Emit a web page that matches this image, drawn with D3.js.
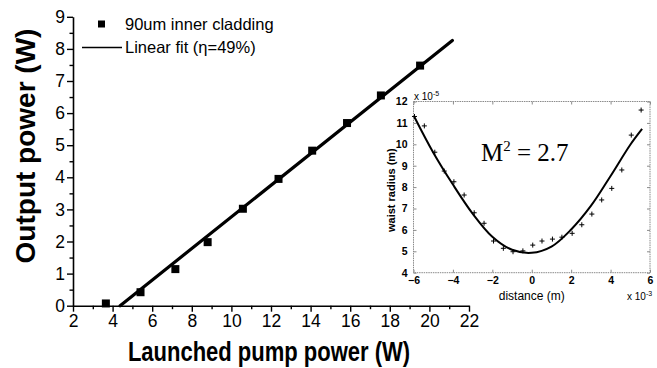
<!DOCTYPE html>
<html>
<head>
<meta charset="utf-8">
<script src="https://cdn.jsdelivr.net/npm/d3@7"></script>
<style>
  body { margin: 0; background: #fff; }
  svg { display: block; }
  text { font-family: "Liberation Sans", Arial, sans-serif; fill: #000; }
</style>
</head>
<body>
<div id="chart"></div>
<script>
const width = 657;
const height = 368;

// main plot: launched pump power vs output power
const pumpPower = [3.66, 5.41, 7.17, 8.80, 10.58, 12.38, 14.08, 15.84, 17.55, 19.53];
const outputPower = [0.07, 0.42, 1.14, 1.98, 3.02, 3.95, 4.83, 5.69, 6.55, 7.48];
const fitPump = [4.38, 21.16];
const fitOutput = [0, 8.26];
const xTicks = [2, 4, 6, 8, 10, 12, 14, 16, 18, 20, 22];
const yTicks = [0, 1, 2, 3, 4, 5, 6, 7, 8, 9];
const legendLabels = ['90um inner cladding', 'Linear fit (\u03b7=49%)'];

// inset: beam waist radius vs distance (x 10^-3 m, x 10^-5 m)
const distance = [-5.95, -5.45, -4.92, -4.44, -3.95, -3.43, -2.92, -2.42, -1.94, -1.44, -0.95, -0.45,
  0.05, 0.52, 1.05, 1.53, 2.05, 2.54, 3.05, 3.55, 4.06, 4.57, 5.05, 5.55];
const waist = [11.30, 10.86, 9.63, 8.75, 8.25, 7.63, 6.80, 6.31, 5.48, 5.14, 4.98, 5.02,
  5.29, 5.48, 5.57, 5.66, 5.84, 6.24, 6.74, 7.40, 7.94, 8.80, 10.43, 11.60];
const curveDistance = [-5.96, -5, -4, -3, -2, -1, 0, 1, 2, 3, 4, 5, 5.6];
const curveWaist = [11.29, 9.62, 8.12, 6.76, 5.68, 5.07, 4.93, 5.22, 6.02, 7.12, 8.52, 9.98, 10.72];
const insetXTicks = [-6, -4, -2, 0, 2, 4, 6];
const insetYTicks = [4, 5, 6, 7, 8, 9, 10, 11, 12];

const svg = d3.select('#chart')
  .append('svg')
  .attr('width', width)
  .attr('height', height);

svg.append('rect')
  .attr('width', width)
  .attr('height', height)
  .attr('fill', '#fff');

// ---------- main plot ----------
const xScale = d3.scaleLinear().domain([2, 22]).range([73, 469]);
const yScale = d3.scaleLinear().domain([0, 9]).range([305.7, 16.8]);

const xMinor = d3.range(3, 22, 2);
const yMinor = d3.range(0.5, 9, 1);

svg.append('g')
  .attr('transform', `translate(0, ${yScale(0)})`)
  .call(d3.axisBottom(xScale).tickValues(xMinor).tickSize(3.5).tickSizeOuter(0).tickFormat(''))
  .call(g => g.select('.domain').remove())
  .selectAll('line').attr('stroke-width', 1.4);

const xAxis = svg.append('g')
  .attr('transform', `translate(0, ${yScale(0)})`)
  .call(d3.axisBottom(xScale).tickValues(xTicks).tickSize(6).tickSizeOuter(0).tickPadding(3));

svg.append('g')
  .attr('transform', `translate(${xScale(2)}, 0)`)
  .call(d3.axisLeft(yScale).tickValues(yMinor).tickSize(3.5).tickSizeOuter(0).tickFormat(''))
  .call(g => g.select('.domain').remove())
  .selectAll('line').attr('stroke-width', 1.4);

const yAxis = svg.append('g')
  .attr('transform', `translate(${xScale(2)}, 0)`)
  .call(d3.axisLeft(yScale).tickValues(yTicks).tickSize(6).tickSizeOuter(0).tickPadding(2));

[xAxis, yAxis].forEach(ax => {
  ax.select('.domain').attr('stroke-width', 1.6).attr('stroke', '#000');
  ax.selectAll('line').attr('stroke-width', 1.4).attr('stroke', '#000');
  ax.selectAll('text')
    .style('font-size', '17.5px')
    .style('font-family', '"Liberation Sans", Arial, sans-serif')
    .attr('fill', '#000');
});

// fit line
svg.append('line')
  .attr('x1', xScale(fitPump[0]))
  .attr('y1', yScale(fitOutput[0]))
  .attr('x2', xScale(fitPump[1]))
  .attr('y2', yScale(fitOutput[1]))
  .attr('stroke', '#000')
  .attr('stroke-width', 3.2)
  .attr('stroke-linecap', 'round');

// data squares
const sq = 8;
svg.selectAll('rect.pt')
  .data(pumpPower)
  .join('rect')
  .attr('class', 'pt')
  .attr('x', (d) => xScale(d) - sq / 2)
  .attr('y', (d, i) => yScale(outputPower[i]) - sq / 2)
  .attr('width', sq)
  .attr('height', sq)
  .attr('fill', '#000');

// legend
svg.append('rect')
  .attr('x', 98)
  .attr('y', 20.5)
  .attr('width', 7)
  .attr('height', 7)
  .attr('fill', '#000');
svg.append('text')
  .attr('x', 125)
  .attr('y', 30)
  .style('font-size', '16.5px')
  .text(legendLabels[0]);
svg.append('line')
  .attr('x1', 82).attr('x2', 122)
  .attr('y1', 47.5).attr('y2', 47.5)
  .attr('stroke', '#000')
  .attr('stroke-width', 1.6);
svg.append('text')
  .attr('x', 125)
  .attr('y', 52.5)
  .style('font-size', '16.5px')
  .text(legendLabels[1]);

// axis titles (condensed bold face in the original)
svg.append('text')
  .attr('transform', 'translate(269, 361) scale(0.8, 1)')
  .attr('text-anchor', 'middle')
  .style('font-size', '27.5px')
  .style('font-weight', 'bold')
  .text('Launched pump power (W)');

svg.append('text')
  .attr('transform', 'translate(35, 146) rotate(-90)')
  .attr('text-anchor', 'middle')
  .style('font-size', '28px')
  .style('font-weight', 'bold')
  .text('Output power (W)');

// ---------- inset ----------
const ix = d3.scaleLinear().domain([-6, 6]).range([413.5, 650]);
const iy = d3.scaleLinear().domain([4, 12]).range([272.7, 101.5]);
const boxColor = '#8a8a8a';

const inset = svg.append('g').attr('class', 'inset');

inset.append('rect')
  .attr('x', ix(-6))
  .attr('y', iy(12))
  .attr('width', ix(6) - ix(-6))
  .attr('height', iy(4) - iy(12))
  .attr('fill', '#fff')
  .attr('stroke', boxColor)
  .attr('stroke-width', 1)
  .attr('stroke-dasharray', '1.5 0.8');

const iBottom = inset.append('g')
  .attr('transform', `translate(0, ${iy(4)})`)
  .call(d3.axisBottom(ix).tickValues(insetXTicks).tickSizeInner(-3).tickSizeOuter(0).tickPadding(4));
const iTop = inset.append('g')
  .attr('transform', `translate(0, ${iy(12)})`)
  .call(d3.axisTop(ix).tickValues(insetXTicks).tickSizeInner(-3).tickSizeOuter(0).tickFormat(''));
const iLeft = inset.append('g')
  .attr('transform', `translate(${ix(-6)}, 0)`)
  .call(d3.axisLeft(iy).tickValues(insetYTicks).tickSizeInner(-3).tickSizeOuter(0).tickPadding(6));
const iRight = inset.append('g')
  .attr('transform', `translate(${ix(6)}, 0)`)
  .call(d3.axisRight(iy).tickValues(insetYTicks).tickSizeInner(-3).tickSizeOuter(0).tickFormat(''));

[iBottom, iTop, iLeft, iRight].forEach(ax => {
  ax.select('.domain').remove();
  ax.selectAll('line').attr('stroke', boxColor);
  ax.selectAll('text')
    .style('font-size', '10.5px')
    .style('font-weight', 'bold')
    .style('font-family', '"Liberation Sans", Arial, sans-serif')
    .attr('fill', '#000');
});

// fit curve
const curvePts = curveDistance.map((d, i) => [d, curveWaist[i]]);
inset.append('path')
  .datum(curvePts)
  .attr('fill', 'none')
  .attr('stroke', '#000')
  .attr('stroke-width', 2)
  .attr('d', d3.line().x(d => ix(d[0])).y(d => iy(d[1])).curve(d3.curveCatmullRom));

// measured points as "+"
const cs = 2.5;
inset.selectAll('path.cross')
  .data(distance)
  .join('path')
  .attr('class', 'cross')
  .attr('d', (d, i) => {
    const cx = ix(d), cy = iy(waist[i]);
    return `M${cx - cs},${cy}H${cx + cs}M${cx},${cy - cs}V${cy + cs}`;
  })
  .attr('stroke', '#000')
  .attr('stroke-width', 1);

// inset labels
const expTop = inset.append('text')
  .attr('x', 414)
  .attr('y', 100)
  .style('font-size', '10px');
expTop.append('tspan').text('x 10');
expTop.append('tspan').attr('dy', -4).style('font-size', '7px').text('-5');

const expBottom = inset.append('text')
  .attr('x', 627)
  .attr('y', 300)
  .style('font-size', '10px');
expBottom.append('tspan').text('x 10');
expBottom.append('tspan').attr('dy', -4).style('font-size', '7px').text('-3');

inset.append('text')
  .attr('x', ix(0))
  .attr('y', 300)
  .attr('text-anchor', 'middle')
  .style('font-size', '12px')
  .text('distance (m)');

inset.append('text')
  .attr('transform', `translate(395, ${(iy(4) + iy(12)) / 2 + 3}) rotate(-90)`)
  .attr('text-anchor', 'middle')
  .style('font-size', '11px')
  .style('font-weight', 'bold')
  .text('waist radius (m)');

const m2 = inset.append('text')
  .attr('x', 481)
  .attr('y', 161)
  .style('font-family', '"Liberation Serif", "Times New Roman", serif')
  .style('font-size', '25px');
m2.append('tspan').text('M');
m2.append('tspan').attr('dy', -10).style('font-size', '15px').text('2');
m2.append('tspan').attr('dy', 10).text(' = 2.7');
</script>
</body>
</html>
